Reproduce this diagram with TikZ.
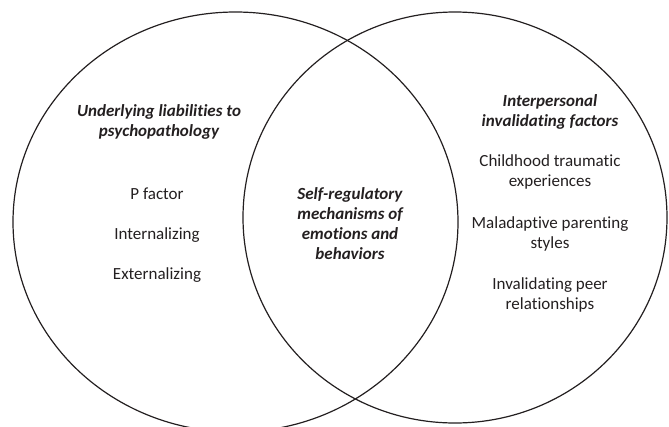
\documentclass[tikz,border=0pt]{standalone}
\usepackage{fontspec}
\setmainfont{Carlito}[Ligatures=NoCommon]
\definecolor{ink}{HTML}{231F20}
\tikzset{
  venn/.style={draw=ink, line width=1.2pt},
  lbl/.style={text=ink, align=center, inner sep=0pt, font=\fontsize{17}{20}\selectfont},
  ttl/.style={lbl, font=\fontsize{17}{20}\selectfont\bfseries\itshape}
}
\begin{document}
\begin{tikzpicture}[x=1pt,y=-1pt]
\useasboundingbox (0,0) rectangle (669,426);
\begin{scope}
\clip (0,0) rectangle (669,426);
\draw[venn] (235.5,222) ellipse [x radius=222.5, y radius=210];
\draw[venn] (455,217.5) ellipse [x radius=212, y radius=205.5];
\end{scope}
\node[ttl] (lt) at (159,122) {Underlying liabilities to\\psychopathology};
\node[lbl] (pf) at (157,194) {P factor};
\node[lbl] (in) at (157,235) {Internalizing};
\node[lbl] (ex) at (157,275) {Externalizing};
\node[ttl] (mid) at (350,223.5) {Self-regulatory\\mechanisms of\\emotions and\\behaviors};
\node[ttl] (rt) at (550,112) {Interpersonal\\invalidating factors};
\node[lbl] (ch) at (550,172) {Childhood traumatic\\experiences};
\node[lbl] (ma) at (550,234) {Maladaptive parenting\\styles};
\node[lbl] (ip) at (550,295) {Invalidating peer\\relationships};
\end{tikzpicture}
\end{document}
